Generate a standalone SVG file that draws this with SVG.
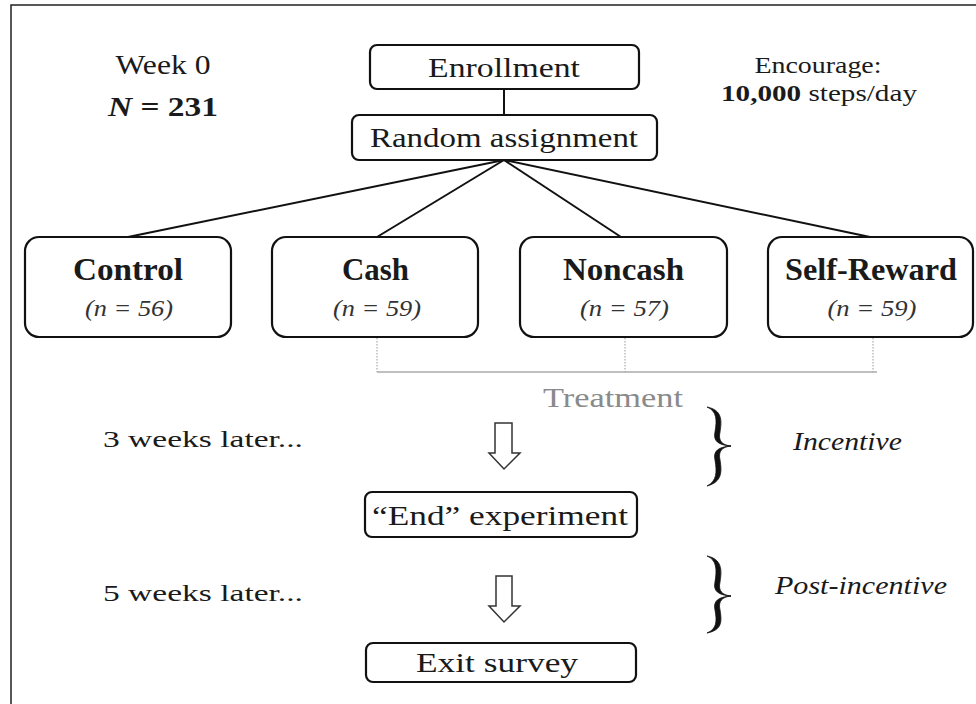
<svg xmlns="http://www.w3.org/2000/svg" width="976" height="704" viewBox="0 0 976 704">
<style>
text{font-family:"Liberation Serif","DejaVu Serif",serif;fill:#1a1a1a;text-anchor:middle}
.box{fill:#fff;stroke:#111;stroke-width:2.2}
.lbl{font-size:28px}
.grp{font-size:31px;font-weight:bold}
.n{font-size:24px;font-style:italic;fill:#333}
.side{font-size:23px}
.it{font-size:25px;font-style:italic}
.con{stroke:#111;stroke-width:2;fill:none}
.dot{stroke:#999;stroke-width:1;stroke-dasharray:1.5 1.5;fill:none}
.brace{fill:#111;stroke:#111;stroke-width:0.8}
.arrow{fill:#fff;stroke:#333;stroke-width:1.5}
</style>
<rect width="976" height="704" fill="#fff"/>
<path d="M11,704 V5 H976" stroke="#222" stroke-width="1.5" fill="none"/>

<g id="connectors">
<line class="con" x1="504" y1="89" x2="504" y2="115"/>
<line class="con" x1="504" y1="160" x2="128" y2="237"/>
<line class="con" x1="504" y1="160" x2="377" y2="237"/>
<line class="con" x1="504" y1="160" x2="621" y2="237"/>
<line class="con" x1="504" y1="160" x2="870" y2="237"/>
<path class="dot" d="M377,338 V372 M625,338 V372 M873,338 V372"/>
<line x1="377" y1="372" x2="877" y2="372" stroke="#aaa" stroke-width="1.5"/>
<path class="arrow" d="M495,423 H512 V453 H520 L504,469 L489,453 H495 Z"/>
<path class="arrow" d="M496,576 H512 V606 H520 L504,622 L489,606 H496 Z"/>
</g>

<g id="week0">
<text x="163" y="74" style="font-size:27px" textLength="95" lengthAdjust="spacingAndGlyphs">Week 0</text>
<text x="163" y="116" style="font-size:27px;font-weight:bold" textLength="110" lengthAdjust="spacingAndGlyphs"><tspan font-style="italic">N</tspan> = 231</text>
</g>
<g id="encourage">
<text class="side" x="818" y="73" textLength="127" lengthAdjust="spacingAndGlyphs">Encourage:</text>
<text class="side" x="819" y="101" textLength="196" lengthAdjust="spacingAndGlyphs"><tspan font-weight="bold">10,000</tspan> steps/day</text>
</g>

<g id="enrollment">
<rect class="box" x="370" y="45" width="269" height="44" rx="7"/>
<text class="lbl" x="504" y="77" textLength="152" lengthAdjust="spacingAndGlyphs">Enrollment</text>
</g>
<g id="random">
<rect class="box" x="352" y="115" width="305" height="45" rx="7"/>
<text class="lbl" x="504" y="147" textLength="268" lengthAdjust="spacingAndGlyphs">Random assignment</text>
</g>

<g id="control">
<rect class="box" x="25" y="237" width="206" height="100" rx="14"/>
<text class="grp" x="128" y="280" textLength="110" lengthAdjust="spacingAndGlyphs">Control</text>
<text class="n" x="129" y="316" textLength="88" lengthAdjust="spacingAndGlyphs">(n = 56)</text>
</g>
<g id="cash">
<rect class="box" x="272" y="237" width="206" height="100" rx="14"/>
<text class="grp" x="375.5" y="280" textLength="67" lengthAdjust="spacingAndGlyphs">Cash</text>
<text class="n" x="377" y="316" textLength="88" lengthAdjust="spacingAndGlyphs">(n = 59)</text>
</g>
<g id="noncash">
<rect class="box" x="520" y="237" width="207" height="100" rx="14"/>
<text class="grp" x="623.5" y="280" textLength="121" lengthAdjust="spacingAndGlyphs">Noncash</text>
<text class="n" x="624.5" y="316" textLength="89" lengthAdjust="spacingAndGlyphs">(n = 57)</text>
</g>
<g id="selfreward">
<rect class="box" x="768" y="237" width="205" height="100" rx="14"/>
<text class="grp" x="871" y="280" textLength="172" lengthAdjust="spacingAndGlyphs">Self-Reward</text>
<text class="n" x="872" y="316" textLength="89" lengthAdjust="spacingAndGlyphs">(n = 59)</text>
</g>

<g id="treatment">
<text x="613" y="407" style="font-size:27px;fill:#8a8a8a" textLength="140" lengthAdjust="spacingAndGlyphs">Treatment</text>
</g>

<g id="incentive">
<text class="side" x="203" y="447" textLength="200" lengthAdjust="spacingAndGlyphs">3 weeks later...</text>
<path class="brace" d="M707,407 C722,410 722,420 720,432 C718,441 722,445 731,446 C722,447 718,451 720,460 C722,472 722,482 707,486 C717,481 717,472 715,460 C713,451 718,447 731,446 C718,445 713,441 715,432 C717,420 717,411 707,407 Z"/>
<text class="it" x="847.5" y="450" textLength="109" lengthAdjust="spacingAndGlyphs">Incentive</text>
</g>

<g id="end">
<rect class="box" x="365" y="492" width="272" height="45" rx="7"/>
<text class="lbl" x="500" y="525" textLength="256" lengthAdjust="spacingAndGlyphs">“End” experiment</text>
</g>

<g id="postincentive">
<text class="side" x="203" y="601" textLength="200" lengthAdjust="spacingAndGlyphs">5 weeks later...</text>
<path class="brace" d="M707,556 C722,559 722,570 720,582 C718,591 722,595 731,596 C722,597 718,601 720,610 C722,622 722,630 707,633 C717,629 717,621 715,610 C713,601 718,597 731,596 C718,595 713,591 715,582 C717,570 717,560 707,556 Z"/>
<text class="it" x="861" y="594" textLength="172" lengthAdjust="spacingAndGlyphs">Post-incentive</text>
</g>

<g id="exit">
<rect class="box" x="366" y="643" width="270" height="39" rx="7"/>
<text class="lbl" x="497" y="672" textLength="162" lengthAdjust="spacingAndGlyphs">Exit survey</text>
</g>
</svg>
